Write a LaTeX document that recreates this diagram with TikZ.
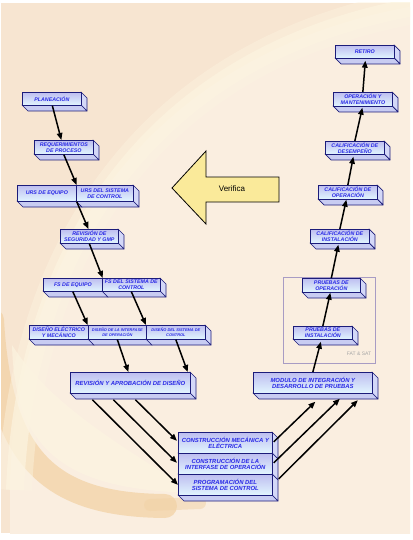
\documentclass[tikz,border=0pt]{standalone}
\usepackage{fontspec}
\setmainfont{Liberation Sans}
\usetikzlibrary{arrows.meta,calc,shadings}
\definecolor{bgc}{HTML}{F7E5D1}
\definecolor{innerc}{HTML}{FAEEE0}
\definecolor{creamc}{HTML}{FCF4E0}
\definecolor{orangec}{HTML}{F2D2A6}
\definecolor{boxline}{HTML}{1C1C7A}
\definecolor{boxtop}{HTML}{BEBEF0}
\definecolor{boxbot}{HTML}{E2F6FF}
\definecolor{sidec}{HTML}{D4D8F8}
\definecolor{botc}{HTML}{C8CCF2}
\definecolor{boxtext}{HTML}{2A2AE6}
\definecolor{verc}{HTML}{FAEA9A}
\definecolor{fatc}{HTML}{A89CC4}
\newcommand\tdb[7][]{%
  \filldraw[sideface] ({#3+#5},#4) -- ++(6,6) -- ({#3+#5+6},{#4+#6+6}) -- ({#3+#5},{#4+#6}) -- cycle;
  \filldraw[bottomface] (#3,{#4+#6}) -- ({#3+#5},{#4+#6}) -- ++(6,6) -- ({#3+6},{#4+#6+6}) -- cycle;
  \node[bx, #1, minimum width=#5pt, minimum height=#6pt] (#2) at (#3,#4) {#7};
}
\begin{document}
\begin{tikzpicture}[x=1pt,y=-1pt,
  bx/.style={draw=boxline, line width=0.7pt, top color=boxtop, bottom color=boxbot,
    anchor=north west, inner sep=0pt, align=center, text=boxtext,
    font=\bfseries\itshape\fontsize{5.3}{6.2}\selectfont},
  big/.style={font=\bfseries\itshape\fontsize{5.9}{6.6}\selectfont},
  tiny/.style={font=\bfseries\itshape\fontsize{3.9}{5}\selectfont},
  sideface/.style={draw=boxline, line width=0.7pt, fill=sidec, line join=round},
  bottomface/.style={draw=boxline, line width=0.7pt, fill=botc, line join=round},
  arr/.style={-{Triangle[length=7pt,width=5.5pt]}, line width=1.5pt, black}]
\useasboundingbox (0,0) rectangle (412,540);
% background
\fill[bgc] (1,3) rectangle (410,533);
\begin{scope}
  \clip (1,3) rectangle (410,533);
  \fill[innerc] (10,480) .. controls (20,250) and (150,50) .. (420,5) -- (420,540) -- (10,540) -- cycle;
  \draw[line width=24pt, orangec, opacity=0.75, line cap=round] (-8,320) .. controls (0,460) and (50,505) .. (165,506);
  \draw[line width=12pt, orangec, opacity=0.5, line cap=round] (150,505) -- (200,503);
  \fill[creamc, opacity=0.7] (12,345) .. controls (15,455) and (70,490) .. (195,493) .. controls (120,445) and (50,405) .. (12,345) -- cycle;
  \draw[line width=34pt, creamc, opacity=0.45] (15,490) .. controls (25,250) and (150,50) .. (425,5);
  \draw[line width=18pt, creamc, opacity=0.7] (15,490) .. controls (25,250) and (150,50) .. (425,5);
\end{scope}
% FAT & SAT frame
\node[draw=fatc, line width=0.6pt, anchor=north west, minimum width=92pt, minimum height=86pt, inner sep=0pt] (fatframe) at (283,277) {};
\node[text=black!35, font=\fontsize{5}{6}\selectfont] (fatlbl) at (359,354) {FAT \& SAT};
% Verifica arrow
\filldraw[fill=verc, draw=black, line width=0.8pt, line join=miter]
  (172,188) -- (206,151) -- (206,177) -- (279,177) -- (279,202) -- (206,202) -- (206,224) -- cycle;
\node[font=\fontsize{8}{9}\selectfont] (verif) at (232,189) {Verifica};
% left branch
\tdb{plan}{22}{92}{59}{13}{PLANEACIÓN}
\tdb{req}{34}{140}{59}{14}{REQUERIMIENTOS\\DE PROCESO}
\tdb{ursA}{17}{185}{59}{16}{URS DE EQUIPO}
\tdb{ursB}{76}{185}{57}{16}{URS DEL SISTEMA\\DE CONTROL}
\tdb{rev}{60}{229}{58}{14}{REVISIÓN DE\\SEGURIDAD Y GMP}
\tdb{fsA}{43}{278}{59}{13}{FS DE EQUIPO}
\tdb{fsB}{102}{278}{58}{13}{FS DEL SISTEMA DE\\CONTROL}
\tdb{disA}{29}{325}{59}{14}{DISEÑO ELÉCTRICO\\Y MECÁNICO}
\tdb[tiny]{disB}{88}{325}{58}{14}{DISEÑO DE LA INTERFASE\\DE OPERACIÓN}
\tdb[tiny]{disC}{146}{325}{59}{14}{DISEÑO DEL SISTEMA DE\\CONTROL}
\tdb[big]{revap}{70}{372}{120}{21}{REVISIÓN Y APROBACIÓN DE DISEÑO}
% bottom stack
\tdb[big]{cA}{178}{432}{94}{21}{CONSTRUCCIÓN MECÁNICA Y\\ELÉCTRICA}
\tdb[big]{cB}{178}{453}{94}{21}{CONSTRUCCIÓN DE LA\\INTERFASE DE OPERACIÓN}
\tdb[big]{cC}{178}{474}{94}{21}{PROGRAMACIÓN DEL\\SISTEMA DE CONTROL}
% right branch
\tdb[big]{mod}{253}{372}{119}{21}{MODULO DE INTEGRACIÓN Y\\DESARROLLO DE PRUEBAS}
\tdb{pi}{293}{326}{59}{13}{PRUEBAS DE\\INSTALACIÓN}
\tdb{po}{302}{278}{58}{14}{PRUEBAS DE\\OPERACIÓN}
\tdb{ci}{310}{229}{59}{14}{CALIFICACIÓN DE\\INSTALACIÓN}
\tdb{co}{318}{185}{59}{14}{CALIFICACIÓN DE\\OPERACIÓN}
\tdb{cd}{325}{141}{59}{13}{CALIFICACIÓN DE\\DESEMPEÑO}
\tdb{om}{333}{92}{59}{14}{OPERACIÓN Y\\MANTENIMIENTO}
\tdb{ret}{335}{45}{59}{13}{RETIRO}
% arrows left
\draw[arr] ($(plan.south)+(0.5,0)$) -- ($(req.north)+(-2.5,0)$);
\draw[arr] (req.south) -- (ursA.north east);
\draw[arr] (ursA.south east) -- ($(rev.north)+(-1,0)$);
\draw[arr] (rev.south) -- (fsA.north east);
\draw[arr] (fsA.south) -- ($(disA.north east)+(-1,0)$);
\draw[arr] (fsB.south) -- (disC.north west);
\draw[arr] (disB.south) -- ($(revap.north)+(-2,0)$);
\draw[arr] (disC.south) -- ($(revap.north east)+(-3,0)$);
\draw[arr] ($(revap.south)+(5,6)$) -- ($(cA.west)+(-1,-2)$);
\draw[arr] ($(revap.south)+(-17,6)$) -- ($(cB.west)+(-1,-1)$);
\draw[arr] ($(revap.south)+(-38,6)$) -- (cC.west);
% arrows right
\draw[arr] ($(cA.east)+(1,-1)$) -- ($(mod.south)+(2.5,8)$);
\draw[arr] ($(cB.east)+(1,-1)$) -- ($(mod.south)+(27,5)$);
\draw[arr] ($(cC.east)+(6,-6)$) -- ($(mod.south)+(45,6.5)$);
\draw[arr] (mod.north) -- ($(pi.south)+(-2,2)$);
\draw[arr] (pi.north) -- ($(po.south)+(-1,0)$);
\draw[arr] (po.north) -- ($(ci.south)+(-1.5,1)$);
\draw[arr] (ci.north) -- ($(co.south)+(-1.5,0)$);
\draw[arr] (co.north) -- ($(cd.south)+(-1.5,2)$);
\draw[arr] (cd.north) -- ($(om.south)+(-0.5,1)$);
\draw[arr] (om.north) -- ($(ret.south)+(0.5,2)$);
\end{tikzpicture}
\end{document}
